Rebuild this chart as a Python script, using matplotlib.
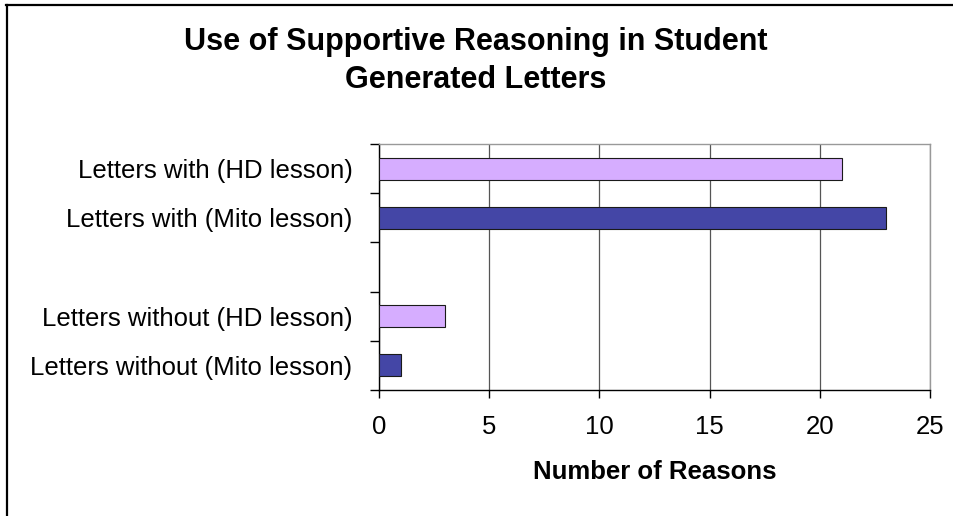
import matplotlib
matplotlib.use("Agg")
import matplotlib.pyplot as plt
from matplotlib.lines import Line2D
from matplotlib.ticker import FixedLocator, NullFormatter

plt.rcParams['font.family'] = ['Liberation Sans', 'DejaVu Sans']

# Chart data
categories = ["Letters with (HD lesson)", "Letters with (Mito lesson)",
              "Letters without (HD lesson)", "Letters without (Mito lesson)"]
reasons = [21, 23, 3, 1]
lessons = ["HD", "Mito", "HD", "Mito"]
x_ticks = [0, 5, 10, 15, 20, 25]

title = "Use of Supportive Reasoning in Student\nGenerated Letters"
x_label = "Number of Reasons"

lesson_colors = {"HD": "#D6ADFF", "Mito": "#4446A6"}

# Category slots: a blank slot separates the "with" and "without" groups
slots = [0, 1, 3, 4]
n_slots = 5

W, H = 954, 516
fig = plt.figure(figsize=(W / 100, H / 100), dpi=100)
fig.patch.set_facecolor("white")

left, right, top, bottom = 379, 930, 144, 390
ax = fig.add_axes([left / W, 1 - bottom / H, (right - left) / W, (bottom - top) / H])

ax.barh(slots, reasons, height=0.45,
        color=[lesson_colors[l] for l in lessons],
        edgecolor="#1a1a1a", linewidth=0.8, zorder=3)

ax.set_xlim(0, 25)
ax.set_ylim(n_slots - 0.5, -0.5)

fs = 18.5

# x axis
ax.set_xticks(x_ticks)
ax.set_xticklabels([str(t) for t in x_ticks], fontsize=fs)
ax.tick_params(axis="x", direction="out", length=6, width=1, pad=12, colors="black")
ax.set_xlabel(x_label, fontsize=fs, fontweight="bold", labelpad=15)

# y axis: tick marks between categories, labels at category centres
ax.yaxis.set_major_locator(FixedLocator([i - 0.5 for i in range(n_slots + 1)]))
ax.yaxis.set_major_formatter(NullFormatter())
ax.yaxis.set_minor_locator(FixedLocator(slots))
ax.set_yticklabels(categories, minor=True, fontsize=fs)
ax.tick_params(axis="y", which="major", direction="out", length=6.5, width=1, colors="black")
ax.tick_params(axis="y", which="minor", length=0, pad=19)

# vertical gridlines
ax.grid(axis="x", color="#555555", linewidth=0.9, zorder=0)
ax.set_axisbelow(True)

for side in ("top", "right"):
    ax.spines[side].set_color("#999999")
    ax.spines[side].set_linewidth(1.0)
for side in ("left", "bottom"):
    ax.spines[side].set_color("black")
    ax.spines[side].set_linewidth(1.0)

# chart title
fig.text(476 / W, 1 - 61 / H, title, ha="center", va="center",
         fontsize=22, fontweight="bold", linespacing=1.38)

# outer chart frame (top and left edges)
fig.add_artist(Line2D([6 / W, 1], [1 - 5 / H, 1 - 5 / H], color="black",
                      linewidth=1.6, transform=fig.transFigure))
fig.add_artist(Line2D([7 / W, 7 / W], [0, 1 - 4.5 / H], color="black",
                      linewidth=1.6, transform=fig.transFigure))

fig.savefig("out.png", dpi=100)
